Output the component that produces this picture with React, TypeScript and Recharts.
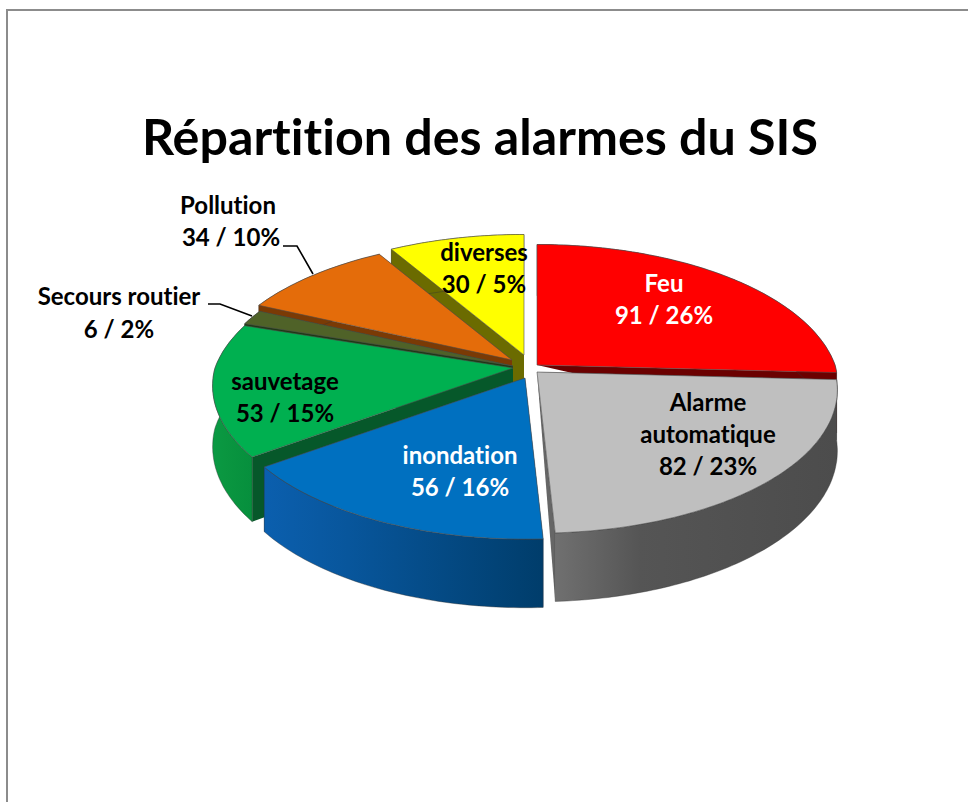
import { Pie, PieChart } from "recharts";

// drawing order is back to front, so the pie runs counter-clockwise starting at the edge of "Feu"
const CATEGORIES = ["Feu", "diverses", "Pollution", "Secours routier", "sauvetage", "inondation", "Alarme automatique"];
const VALUES = [91, 30, 34, 6, 53, 56, 82];
const PERCENTS = [26, 5, 10, 2, 15, 16, 23];

const TOP_COLORS = ["#ff0000", "#ffff00", "#e46c0a", "#4f6228", "#00b050", "#0070c0", "#bfbfbf"];
const RADIAL_COLORS = ["#6b0000", "#6b6b00", "#7a3a05", "#1d3a12", "#06582a", "#00406f", "#666666"];
const WALL_LEFT = ["#6b0000", "#6b6b00", "#7a3a05", "#1d3a12", "#0a9a44", "#0b5fae", "#707070"];
const WALL_MID = ["#6b0000", "#6b6b00", "#7a3a05", "#1d3a12", "#0a9640", "#08569c", "#555555"];
const WALL_RIGHT = ["#6b0000", "#6b6b00", "#7a3a05", "#1d3a12", "#068f3d", "#003d6b", "#4c4c4c"];

// how far each slice is pulled out of the pie
const EXPLODE = [
  [12, 0],
  [-1, -10],
  [-13, -5],
  [-12, 1],
  [-12, 3],
  [0, 13],
  [12, 7],
];
const APEX_DEPTH = [0, 1, 1, 1, 1, 1, 0];

const CX = 525;
const CY = 365;
const RX = 298;
const RY = 141;
const DEPTH = 60;
const PERSPECTIVE_FAR = 0.17;
const PERSPECTIVE_NEAR = 0.125;

const total = VALUES.reduce((a, b) => a + b, 0);
const START_ANGLE = 90 - (360 * VALUES[0]) / total;

const FONT = "Lato, sans-serif";
const NO_LIGA = { fontVariantLigatures: "none" } as const;

const LABELS: Record<string, { x: number; ys: number[]; fill: string; lines?: string[]; x2?: number; leader?: string }> = {
  Feu: { x: 664, ys: [292, 324], fill: "#ffffff" },
  diverses: { x: 484, ys: [261, 293], fill: "#000000" },
  Pollution: { x: 228, x2: 231, ys: [214, 246], fill: "#000000", leader: "M283 246 L297 246 L313 274" },
  "Secours routier": { x: 119, ys: [305, 338], fill: "#000000", leader: "M208 304 L220 304 L252 316" },
  sauvetage: { x: 285, ys: [390, 422], fill: "#000000" },
  inondation: { x: 460, ys: [464, 496], fill: "#ffffff" },
  "Alarme automatique": { x: 708, ys: [411, 443, 475], fill: "#000000", lines: ["Alarme", "automatique"] },
};

function project(x0: number, y0: number, angle: number, down: number) {
  const t = (angle * Math.PI) / 180;
  const u = Math.cos(t);
  const v = Math.sin(t);
  const p = 1 / (1 + (v > 0 ? PERSPECTIVE_FAR : PERSPECTIVE_NEAR) * v);
  return [x0 + RX * u * p, y0 - RY * v * p + down * p];
}

function arcPoints(x0: number, y0: number, a1: number, a2: number, down: number) {
  const steps = Math.max(2, Math.ceil(Math.abs(a2 - a1)));
  const pts: number[][] = [];
  for (let i = 0; i <= steps; i++) {
    pts.push(project(x0, y0, a1 + ((a2 - a1) * i) / steps, down));
  }
  return pts;
}

const toPath = (pts: number[][]) => "M" + pts.map((p) => `${p[0].toFixed(1)} ${p[1].toFixed(1)}`).join(" L") + " Z";

function Slice3D(props: any) {
  const { cx, cy, startAngle, endAngle, index } = props;
  const x0 = cx + EXPLODE[index][0];
  const y0 = cy + EXPLODE[index][1];
  const apex = [x0, y0];
  const apexLow = [x0, y0 + DEPTH * APEX_DEPTH[index]];

  const wall = (angle: number) =>
    toPath([apex, project(x0, y0, angle, 0), project(x0, y0, angle, DEPTH), apexLow]);

  const arcTop = arcPoints(x0, y0, startAngle, endAngle, 0);
  const arcLow = arcPoints(x0, y0, endAngle, startAngle, DEPTH);

  return (
    <g>
      <path d={wall(startAngle)} fill={RADIAL_COLORS[index]} />
      <path d={wall(endAngle)} fill={RADIAL_COLORS[index]} />
      <path d={toPath([...arcTop, ...arcLow])} fill={`url(#wall-${index})`} stroke="#333333" strokeWidth={0.4} />
      <path d={toPath([apex, ...arcTop])} fill={TOP_COLORS[index]} stroke="#4d4d4d" strokeWidth={0.6} />
    </g>
  );
}

function SliceLabel(props: any) {
  const { index } = props;
  const name = CATEGORIES[index];
  const cfg = LABELS[name];
  const lines = [...(cfg.lines ?? [name]), `${VALUES[index]} / ${PERCENTS[index]}%`];
  return (
    <g>
      {cfg.leader && <path d={cfg.leader} fill="none" stroke="#000000" strokeWidth={1.6} />}
      {lines.map((line, i) => (
        <text
          key={line}
          x={i === lines.length - 1 && cfg.x2 ? cfg.x2 : cfg.x}
          y={cfg.ys[i]}
          textAnchor="middle"
          fontFamily={FONT}
          fontWeight={700}
          fontSize={24}
          fill={cfg.fill}
          style={NO_LIGA}
        >
          {line}
        </text>
      ))}
    </g>
  );
}

const chartData = CATEGORIES.map((name, i) => ({ name, value: VALUES[i] }));

export default function App() {
  return (
    <div style={{ position: "absolute", left: 0, top: 0, width: 968, height: 802, background: "#ffffff", overflow: "hidden" }}>
      <div
        style={{
          position: "absolute",
          left: 6,
          top: 9,
          width: 968,
          height: 802,
          borderLeft: "2px solid #8c8c8c",
          borderTop: "2px solid #8c8c8c",
        }}
      />
      <div style={{ position: "absolute", left: 0, top: 0 }}>
        <PieChart width={968} height={802} margin={{ top: 0, right: 0, bottom: 0, left: 0 }}>
          <defs>
            {CATEGORIES.map((name, i) => (
              <linearGradient key={name} id={`wall-${i}`} x1="0" y1="0" x2="1" y2="0">
                <stop offset="0%" stopColor={WALL_LEFT[i]} />
                <stop offset="30%" stopColor={WALL_MID[i]} />
                <stop offset="100%" stopColor={WALL_RIGHT[i]} />
              </linearGradient>
            ))}
          </defs>
          <text x={480} y={155} textAnchor="middle" fontFamily={FONT} fontWeight={700} fontSize={50.2} fill="#000000" style={NO_LIGA}>
            Répartition des alarmes du SIS
          </text>
          <Pie
            data={chartData}
            dataKey="value"
            nameKey="name"
            cx={CX}
            cy={CY}
            outerRadius={RX}
            startAngle={START_ANGLE}
            endAngle={START_ANGLE + 360}
            stroke="none"
            shape={Slice3D}
            label={SliceLabel}
            labelLine={false}
            isAnimationActive={false}
          />
        </PieChart>
      </div>
    </div>
  );
}
